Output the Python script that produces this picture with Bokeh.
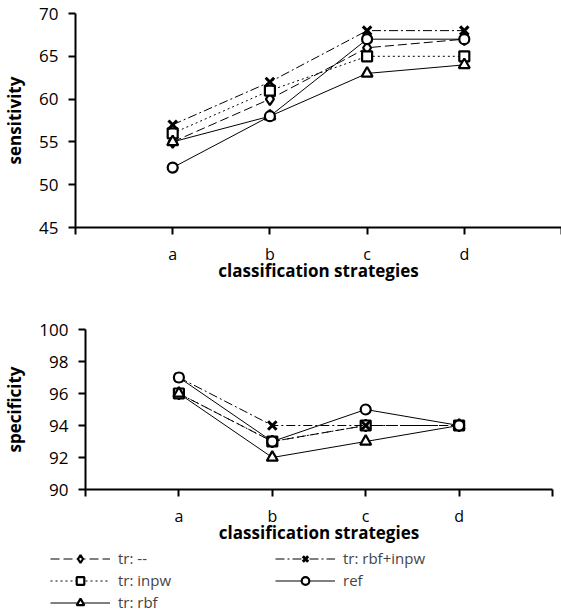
from bokeh.plotting import figure
from bokeh.layouts import column
from bokeh.models import FixedTicker, Legend, LegendItem, Range1d
from bokeh.embed import file_html
from bokeh.resources import INLINE

# classification strategies on the x axis
strategies = ["a", "b", "c", "d"]

# sensitivity per training variant
sens_tr_none = [55, 60, 66, 67]
sens_tr_inpw = [56, 61, 65, 65]
sens_tr_rbf = [55, 58, 63, 64]
sens_tr_rbf_inpw = [57, 62, 68, 68]
sens_ref = [52, 58, 67, 67]

# specificity per training variant
spec_tr_none = [96, 93, 94, 94]
spec_tr_inpw = [96, 93, 94, 94]
spec_tr_rbf = [96, 92, 93, 94]
spec_tr_rbf_inpw = [97, 94, 94, 94]
spec_ref = [97, 93, 95, 94]

sens_ticks = [45, 50, 55, 60, 65, 70]
spec_ticks = [90, 92, 94, 96, 98, 100]

FONT = "Open Sans"
xs = [i + 1 for i in range(len(strategies))]

# series styles: label, marker, marker size, dash
styles = [
    ("tr: --", "diamond", 12, "9 4"),
    ("tr: inpw", "square", 10, "2 3"),
    ("tr: rbf", "triangle", 11, "solid"),
    ("tr: rbf+inpw", "x", 12, "9 3 2 3"),
    ("ref", "circle", 10, "solid"),
]


def make_fig(height, ylo, yhi, yticks, ylabel, left, top, right, bottom):
    p = figure(width=561, height=height, output_backend="svg", toolbar_location=None,
               x_range=Range1d(0, 5), y_range=Range1d(ylo, yhi),
               min_border_left=left, min_border_top=top, min_border_right=right,
               min_border_bottom=bottom, frame_align=False)
    p.outline_line_color = None
    p.grid.visible = False
    p.background_fill_color = "white"
    p.border_fill_color = "white"

    p.xaxis.ticker = FixedTicker(ticks=[0, 1, 2, 3, 4, 5])
    overrides = {0: "", 5: ""}
    for i, s in enumerate(strategies):
        overrides[i + 1] = s
    p.xaxis.major_label_overrides = overrides
    p.xaxis.axis_label = "classification strategies"
    p.yaxis.ticker = FixedTicker(ticks=yticks)
    p.yaxis.axis_label = ylabel

    for ax in (p.xaxis, p.yaxis):
        ax.axis_line_width = 2
        ax.axis_line_color = "black"
        ax.major_tick_line_width = 2
        ax.major_tick_line_color = "black"
        ax.major_tick_in = 0
        ax.major_tick_out = 7
        ax.minor_tick_line_color = None
        ax.major_label_text_font = FONT
        ax.major_label_text_color = "black"
        ax.axis_label_text_font = FONT
        ax.axis_label_text_font_style = "bold"
        ax.axis_label_text_color = "black"
        ax.axis_label_text_font_size = "17px"
    p.xaxis.major_label_text_font_size = "16px"
    p.yaxis.major_label_text_font_size = "17px"
    p.xaxis.major_label_standoff = 8
    p.xaxis.axis_label_standoff = -9
    p.yaxis.major_label_standoff = 10
    p.yaxis.axis_label_standoff = 10
    return p


def add_series(p, series):
    renderers = []
    for (label, marker, size, dash), ys in zip(styles, series):
        ln = p.line(xs, ys, line_color="black", line_width=1, line_dash=dash)
        lw = 3 if marker == "x" else 2.2
        mk = p.scatter(xs, ys, marker=marker, size=size, line_color="black",
                       line_width=lw, fill_color="white")
        renderers.append((label, ln, mk))
    return renderers


sens_series = [sens_tr_none, sens_tr_inpw, sens_tr_rbf, sens_tr_rbf_inpw, sens_ref]
spec_series = [spec_tr_none, spec_tr_inpw, spec_tr_rbf, spec_tr_rbf_inpw, spec_ref]

top = make_fig(295, 45, 70, sens_ticks, "sensitivity", 70, 13, 0, 68)
add_series(top, sens_series)

bottom = make_fig(251, 90, 100, spec_ticks, "specificity", 80, 34, 9, 51)
add_series(bottom, spec_series)

# key panel below the charts; its view window sits away from the data,
# so only the legend entries are visible
key = figure(width=561, height=70, output_backend="svg", toolbar_location=None,
             x_range=Range1d(-20, -19), y_range=Range1d(-20, -19),
             min_border=0, frame_align=False)
key.axis.visible = False
key.grid.visible = False
key.outline_line_color = None
key_renderers = add_series(key, spec_series)
items = [LegendItem(label=label, renderers=[ln, mk]) for label, ln, mk in key_renderers]

legend = Legend(items=items, ncols=2, location=(50, 4),
                border_line_color=None, background_fill_alpha=0,
                label_text_font=FONT, label_text_font_size="15px",
                glyph_width=60, glyph_height=19, spacing=2, padding=0,
                margin=0, label_standoff=8, label_width=155)
key.add_layout(legend)

layout = column(top, bottom, key, spacing=0)
open("out.html", "w").write(file_html(layout, INLINE))
